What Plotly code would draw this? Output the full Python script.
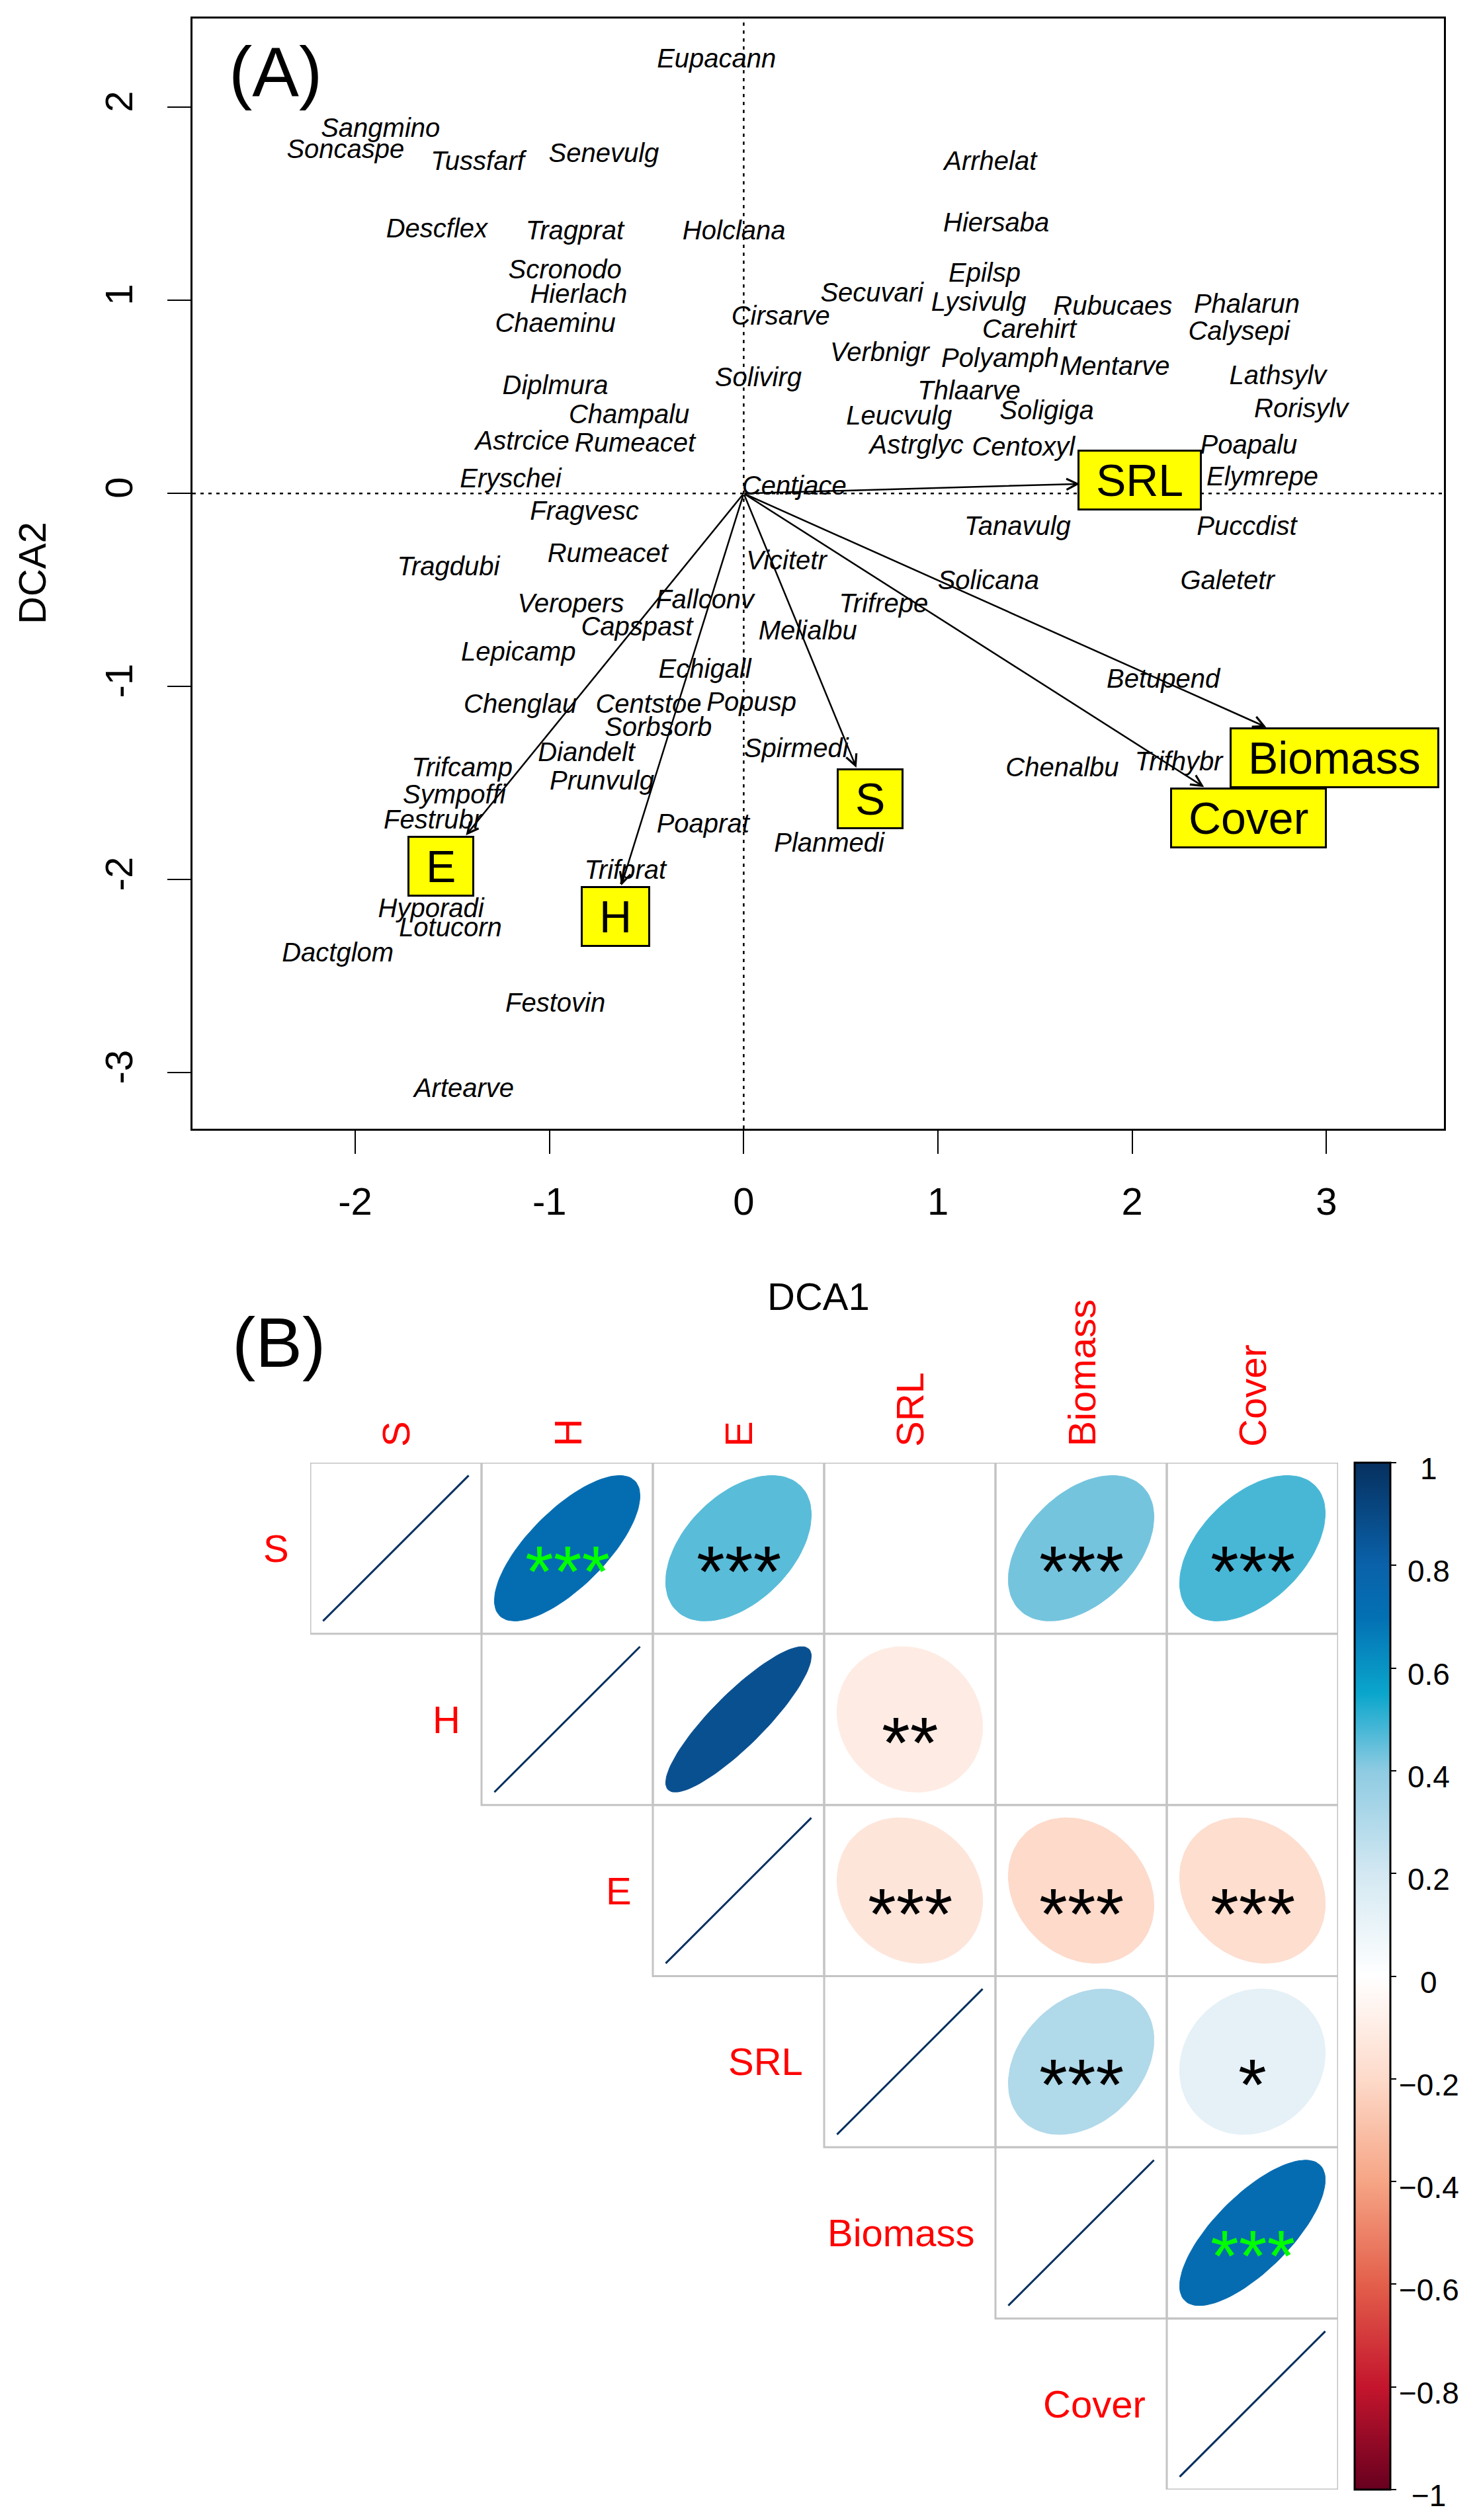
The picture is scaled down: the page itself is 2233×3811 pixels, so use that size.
import numpy as np
import plotly.graph_objects as go
from plotly.colors import sample_colorscale

# ---------------- Panel A data: DCA species scores ----------------
species = ["Eupacann", "Sangmino", "Soncaspe", "Tussfarf", "Senevulg", "Descflex", "Tragprat",
           "Holclana", "Scronodo", "Hierlach", "Chaeminu", "Cirsarve", "Diplmura", "Champalu",
           "Astrcice", "Rumeacet", "Eryschei", "Fragvesc", "Solivirg", "Arrhelat", "Hiersaba",
           "Epilsp", "Secuvari", "Lysivulg", "Rubucaes", "Phalarun", "Carehirt", "Calysepi",
           "Verbnigr", "Polyamph", "Mentarve", "Lathsylv", "Thlaarve", "Leucvulg", "Soligiga",
           "Rorisylv", "Astrglyc", "Centoxyl", "Poapalu", "Elymrepe", "Centjace", "Tanavulg",
           "Puccdist", "Vicitetr", "Solicana", "Galetetr", "Trifrepe", "Melialbu", "Betupend",
           "Spirmedi", "Chenalbu", "Trifhybr", "Planmedi", "Rumeacet", "Tragdubi", "Veropers",
           "Fallconv", "Capspast", "Lepicamp", "Echigall", "Chenglau", "Centstoe", "Popusp",
           "Sorbsorb", "Diandelt", "Trifcamp", "Prunvulg", "Sympoffi", "Festrubr", "Poaprat",
           "Trifprat", "Hyporadi", "Lotucorn", "Dactglom", "Festovin", "Artearve"]
dca1 = [-0.14, -1.87, -2.05, -1.37, -0.72, -1.58, -0.87,
        -0.05, -0.92, -0.85, -0.97, 0.19, -0.97, -0.59,
        -1.14, -0.56, -1.20, -0.82, 0.075, 1.27, 1.30,
        1.24, 0.66, 1.21, 1.90, 2.59, 1.47, 2.55,
        0.70, 1.32, 1.91, 2.75, 1.16, 0.80, 1.56,
        2.87, 0.89, 1.44, 2.60, 2.67, 0.26, 1.41,
        2.59, 0.22, 1.26, 2.49, 0.72, 0.33, 2.16,
        0.27, 1.64, 2.24, 0.44, -0.70, -1.52, -0.89,
        -0.20, -0.55, -1.16, -0.20, -1.15, -0.49, 0.04,
        -0.44, -0.81, -1.45, -0.73, -1.49, -1.60, -0.21,
        -0.61, -1.61, -1.51, -2.09, -0.97, -1.44]
dca2 = [2.24, 1.88, 1.77, 1.71, 1.75, 1.36, 1.35,
        1.35, 1.15, 1.02, 0.87, 0.91, 0.55, 0.40,
        0.26, 0.25, 0.065, -0.10, 0.59, 1.71, 1.39,
        1.13, 1.03, 0.98, 0.96, 0.97, 0.84, 0.83,
        0.72, 0.69, 0.65, 0.60, 0.52, 0.39, 0.42,
        0.43, 0.24, 0.23, 0.24, 0.075, 0.03, -0.18,
        -0.18, -0.36, -0.46, -0.46, -0.58, -0.72, -0.97,
        -1.33, -1.43, -1.40, -1.82, -0.32, -0.39, -0.58,
        -0.56, -0.70, -0.83, -0.92, -1.10, -1.10, -1.09,
        -1.22, -1.35, -1.43, -1.50, -1.57, -1.70, -1.72,
        -1.96, -2.16, -2.26, -2.39, -2.65, -3.09]

# fitted environmental vectors (arrow tips) and their label positions
env_vars = ["SRL", "Biomass", "Cover", "S", "H", "E"]
env_dca1 = [1.73, 2.69, 2.37, 0.58, -0.63, -1.43]
env_dca2 = [0.05, -1.21, -1.52, -1.42, -2.03, -1.77]
env_lab1 = [2.04, 3.04, 2.60, 0.65, -0.66, -1.56]
env_lab2 = [0.07, -1.37, -1.68, -1.58, -2.19, -1.93]

xticks_A = [-2, -1, 0, 1, 2, 3]
xtick_text_A = ["-2", "-1", "0", "1", "2", "3"]
yticks_A = [-3, -2, -1, 0, 1, 2]
ytick_text_A = ["-3", "-2", "-1", "0", "1", "2"]

# ---------------- Panel B data: correlation matrix (upper triangle) ----------------
traits = ["S", "H", "E", "SRL", "Biomass", "Cover"]
# None = not significant (left blank); diagonal = 1
corr = [
    [1.0, 0.72, 0.46, None, 0.43, 0.48],
    [None, 1.0, 0.87, -0.10, None, None],
    [None, None, 1.0, -0.14, -0.20, -0.18],
    [None, None, None, 1.0, 0.30, 0.12],
    [None, None, None, None, 1.0, 0.73],
    [None, None, None, None, None, 1.0],
]
sig = [
    ["", "***", "***", "", "***", "***"],
    ["", "", "", "**", "", ""],
    ["", "", "", "***", "***", "***"],
    ["", "", "", "", "***", "*"],
    ["", "", "", "", "", "***"],
    ["", "", "", "", "", ""],
]
green_pairs = [(0, 1), (4, 5)]
cbar_ticks = [-1, -0.8, -0.6, -0.4, -0.2, 0, 0.2, 0.4, 0.6, 0.8, 1]
cbar_text = ["−1", "−0.8", "−0.6", "−0.4", "−0.2", "0", "0.2", "0.4", "0.6", "0.8", "1"]

colorscale = [
    [0.00, "#67001F"], [0.10, "#C4152D"], [0.20, "#E35F4B"], [0.30, "#F6A585"],
    [0.40, "#FDDACA"], [0.50, "#FFFFFF"], [0.60, "#D3E8F2"], [0.70, "#8ECBE2"],
    [0.775, "#0AA6CC"], [0.85, "#0370B4"], [0.90, "#0A62AA"], [1.00, "#06305F"],
]

W, H = 2233, 3811
OFF = 8  # the page body adds an 8px margin; target pixel positions are corrected for it
FONT = "Liberation Sans, Arial, sans-serif"


def fx(p):
    return (p - OFF) / W


def fy(p):
    return 1 - (p - OFF) / H


fig = go.Figure()

# ---------- Panel A ----------
fig.add_trace(go.Scatter(
    x=dca1, y=dca2, text=species, mode="text",
    textfont=dict(family=FONT, size=40, color="black", style="italic"),
    textposition="middle center", xaxis="x", yaxis="y", hoverinfo="skip",
    cliponaxis=False,
))

shapes = []
shapes.append(dict(type="line", xref="x domain", yref="y", x0=0, x1=1, y0=0, y1=0,
                   line=dict(color="black", width=2.5, dash="5px,7px"), layer="below"))
shapes.append(dict(type="line", xref="x", yref="y domain", x0=0, x1=0, y0=0, y1=1,
                   line=dict(color="black", width=2.5, dash="5px,7px"), layer="below"))

annotations = []
for name, ex, ey in zip(env_vars, env_dca1, env_dca2):
    annotations.append(dict(x=ex, y=ey, ax=0, ay=0, xref="x", yref="y", axref="x", ayref="y",
                            text="", showarrow=True, arrowhead=5, arrowsize=1.3,
                            arrowwidth=2.5, arrowcolor="black", standoff=0, startstandoff=0))
for name, lx, ly in zip(env_vars, env_lab1, env_lab2):
    annotations.append(dict(x=lx, y=ly, xref="x", yref="y", text="&nbsp;" + name + "&nbsp;",
                            showarrow=False, font=dict(family=FONT, size=68, color="black"),
                            bgcolor="#FFFF00", bordercolor="black", borderwidth=3,
                            borderpad=6, height=74, xanchor="center", yanchor="middle"))

annotations.append(dict(x=fx(1237), y=fy(1961), xref="paper", yref="paper", text="DCA1",
                        showarrow=False, font=dict(family=FONT, size=58, color="black"),
                        xanchor="center", yanchor="middle"))
annotations.append(dict(x=fx(49), y=fy(867), xref="paper", yref="paper", text="DCA2",
                        showarrow=False, textangle=-90,
                        font=dict(family=FONT, size=58, color="black"),
                        xanchor="center", yanchor="middle"))
annotations.append(dict(x=fx(416), y=fy(108), xref="paper", yref="paper", text="(A)",
                        showarrow=False, font=dict(family=FONT, size=106, color="black"),
                        xanchor="center", yanchor="middle"))
annotations.append(dict(x=fx(421), y=fy(2030), xref="paper", yref="paper", text="(B)",
                        showarrow=False, font=dict(family=FONT, size=106, color="black"),
                        xanchor="center", yanchor="middle"))

# ---------- Panel B ----------
k = np.linspace(0, 2 * np.pi, 99)
n = len(traits)
for i in range(n):
    for j in range(i, n):
        shapes.append(dict(type="rect", xref="x2", yref="y2", x0=j + 0.5, x1=j + 1.5,
                           y0=i + 0.5, y1=i + 1.5, line=dict(color="#C4C4C4", width=3),
                           layer="below"))
        r = corr[i][j]
        if r is None:
            continue
        a = np.arccos(np.clip(r, -1, 1))
        ex = 0.85 * np.cos(k + a / 2) / 2
        ey = 0.85 * np.cos(k - a / 2) / 2
        col = sample_colorscale(colorscale, [(r + 1) / 2])[0]
        if i == j:
            fig.add_trace(go.Scatter(x=(j + 1) + ex, y=(i + 1) - ey, mode="lines",
                                     line=dict(color=col, width=3), xaxis="x2", yaxis="y2",
                                     hoverinfo="skip"))
        else:
            fig.add_trace(go.Scatter(x=(j + 1) + ex, y=(i + 1) - ey, mode="lines",
                                     fill="toself", fillcolor=col,
                                     line=dict(color=col, width=1), xaxis="x2", yaxis="y2",
                                     hoverinfo="skip"))
        s = sig[i][j]
        if s:
            annotations.append(dict(x=j + 1, y=i + 1, xref="x2", yref="y2", text=s,
                                    showarrow=False, yshift=-34,
                                    font=dict(family=FONT, size=110,
                                              color="#00FF00" if (i, j) in green_pairs else "black"),
                                    xanchor="center", yanchor="middle"))

for idx, t in enumerate(traits):
    annotations.append(dict(x=idx + 1, y=0.5, xref="x2", yref="y2", text=t, textangle=-90,
                            showarrow=False, yshift=22,
                            font=dict(family=FONT, size=58, color="#FF0000"),
                            xanchor="center", yanchor="bottom"))
    annotations.append(dict(x=idx + 0.5, y=idx + 1, xref="x2", yref="y2", text=t,
                            showarrow=False, xshift=-30,
                            font=dict(family=FONT, size=58, color="#FF0000"),
                            xanchor="right", yanchor="middle"))

# colour bar (labels centred to the right like corrplot's legend)
CB_TOP, CB_BOT = 2212, 3765
fig.add_trace(go.Scatter(
    x=[1, 1], y=[1, 1], mode="markers", xaxis="x2", yaxis="y2", hoverinfo="skip",
    marker=dict(size=1, opacity=0, color=[-1, 1], cmin=-1, cmax=1, colorscale=colorscale,
                showscale=True,
                colorbar=dict(x=fx(2048), xanchor="left", y=fy(CB_TOP), yanchor="top",
                              len=(CB_BOT - CB_TOP) / H, lenmode="fraction",
                              thickness=54, thicknessmode="pixels",
                              outlinewidth=3, outlinecolor="black",
                              tickvals=cbar_ticks, ticktext=[""] * len(cbar_ticks),
                              ticks="outside", ticklen=8, tickwidth=2, tickcolor="black",
                              showticklabels=True,
                              tickfont=dict(family=FONT, size=10, color="black"),
                              xpad=0, ypad=0)),
))
for v, t in zip(cbar_ticks, cbar_text):
    ypix = CB_BOT - (v + 1) / 2 * (CB_BOT - CB_TOP)
    annotations.append(dict(x=fx(2160), y=fy(ypix), xref="paper", yref="paper", text=t,
                            showarrow=False, yshift=-9,
                            font=dict(family=FONT, size=46, color="black"),
                            xanchor="center", yanchor="middle"))

fig.update_layout(
    width=W, height=H, autosize=False,
    margin=dict(l=0, r=0, t=0, b=0, pad=0),
    paper_bgcolor="white", plot_bgcolor="white", showlegend=False,
    shapes=shapes, annotations=annotations,
    xaxis=dict(domain=[fx(291), fx(2183)], range=[-2.838, 3.605], tickvals=xticks_A,
               ticktext=xtick_text_A, ticks="outside", ticklen=35, tickwidth=2,
               tickcolor="black", showline=True, linewidth=3, linecolor="black", mirror=True,
               showgrid=False, zeroline=False, ticklabelstandoff=22,
               tickfont=dict(family=FONT, size=58, color="black")),
    yaxis=dict(domain=[fy(1707), fy(28)], range=[-3.29, 2.46], tickvals=yticks_A,
               ticktext=ytick_text_A, ticks="outside", ticklen=35, tickwidth=2,
               tickcolor="black", showline=True, linewidth=3, linecolor="black", mirror=True,
               showgrid=False, zeroline=False, tickangle=-90, ticklabelstandoff=30,
               tickfont=dict(family=FONT, size=58, color="black")),
    xaxis2=dict(domain=[fx(469), fx(2023)], range=[0.5, 6.5], visible=False, anchor="y2"),
    yaxis2=dict(domain=[fy(3765), fy(2212)], range=[6.5, 0.5], visible=False,
                anchor="x2"),
)

fig.write_html("out.html")
